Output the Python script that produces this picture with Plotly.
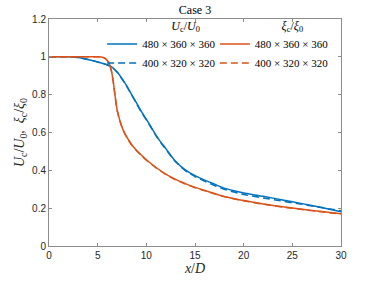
import plotly.graph_objects as go

# Blue: U_c/U_0
u_x = [0, 2, 3, 4, 5, 6, 6.5, 7, 7.5, 8, 8.5, 9, 9.5, 10, 10.5, 11, 11.5, 12, 12.5, 13, 14, 15, 16, 17, 18, 19, 20, 22, 24, 26, 28, 30]
u_fine = [1.0, 1.0, 0.996, 0.986, 0.973, 0.958, 0.945, 0.92, 0.885, 0.845, 0.80, 0.755, 0.71, 0.67, 0.628, 0.585, 0.548, 0.515, 0.48, 0.448, 0.402, 0.372, 0.348, 0.327, 0.306, 0.292, 0.28, 0.263, 0.243, 0.224, 0.203, 0.181]
u_coarse = [1.0, 1.0, 0.996, 0.986, 0.973, 0.957, 0.944, 0.918, 0.883, 0.843, 0.798, 0.752, 0.707, 0.667, 0.625, 0.583, 0.546, 0.512, 0.477, 0.445, 0.398, 0.367, 0.342, 0.32, 0.3, 0.285, 0.272, 0.254, 0.237, 0.22, 0.203, 0.186]

# Orange: xi_c/xi_0
xi_x = [0, 5, 5.5, 5.8, 6.0, 6.2, 6.4, 6.6, 6.8, 7.0, 7.3, 7.6, 8, 8.5, 9, 9.5, 10, 11, 12, 13, 14, 15, 16, 18, 20, 22, 24, 26, 28, 30]
xi_fine = [1.0, 1.0, 0.998, 0.99, 0.98, 0.963, 0.93, 0.87, 0.79, 0.72, 0.66, 0.615, 0.575, 0.535, 0.505, 0.48, 0.456, 0.415, 0.38, 0.352, 0.33, 0.31, 0.294, 0.262, 0.24, 0.222, 0.207, 0.194, 0.182, 0.17]
xi_coarse = [1.0, 1.0, 0.998, 0.99, 0.979, 0.962, 0.928, 0.868, 0.788, 0.718, 0.658, 0.613, 0.573, 0.533, 0.503, 0.478, 0.454, 0.413, 0.378, 0.35, 0.328, 0.308, 0.292, 0.261, 0.239, 0.221, 0.206, 0.193, 0.181, 0.169]

labels = ["480 × 360 × 360", "400 × 320 × 320"]
BLUE = "#0072BD"
ORANGE = "#D95319"
SERIF = "Liberation Serif, DejaVu Serif, serif"
SANS = "Liberation Sans, Arial, sans-serif"
DASH = "7px,4px"

fig = go.Figure()
fig.add_trace(go.Scatter(x=u_x, y=u_fine, mode="lines", name=labels[0],
                         line=dict(color=BLUE, width=1.5, shape="spline", smoothing=0.5), legend="legend"))
fig.add_trace(go.Scatter(x=u_x, y=u_coarse, mode="lines", name=labels[1],
                         line=dict(color=BLUE, width=1.5, dash=DASH, shape="spline", smoothing=0.5), legend="legend"))
fig.add_trace(go.Scatter(x=xi_x, y=xi_fine, mode="lines", name=labels[0],
                         line=dict(color=ORANGE, width=1.5, shape="spline", smoothing=0.5), legend="legend2"))
fig.add_trace(go.Scatter(x=xi_x, y=xi_coarse, mode="lines", name=labels[1],
                         line=dict(color=ORANGE, width=1.5, dash=DASH, shape="spline", smoothing=0.5), legend="legend2"))

axis_common = dict(showline=True, linecolor="#8c8c8c", linewidth=1, mirror="ticks",
                   ticks="inside", ticklen=3, tickcolor="#8c8c8c", showgrid=False, zeroline=False,
                   automargin=False,
                   tickfont=dict(family=SANS, size=10, color="#262626"))

pad_u = "&nbsp;" * 16
pad_xi = "&nbsp;" * 12

fig.update_layout(
    width=376, height=282,
    margin=dict(l=49, r=35, t=19, b=36),
    paper_bgcolor="white", plot_bgcolor="white",
    title=dict(text="Case 3", x=0.5, xref="paper", y=0.965, yanchor="middle",
               font=dict(family=SERIF, size=12, color="black")),
    xaxis=dict(range=[0, 30], tickvals=[0, 5, 10, 15, 20, 25, 30],
               title=dict(text="<i>x</i>/<i>D</i>", font=dict(family=SERIF, size=14, color="#262626"), standoff=0),
               **axis_common),
    yaxis=dict(range=[0, 1.2], tickvals=[0, 0.2, 0.4, 0.6, 0.8, 1.0, 1.2],
               ticktext=["0", "0.2", "0.4", "0.6", "0.8", "1", "1.2"],
               title=dict(text="<i>U</i><sub>c</sub>/<i>U</i><sub>0</sub>,  <i>ξ</i><sub>c</sub>/<i>ξ</i><sub>0</sub>",
                          font=dict(family=SERIF, size=14, color="#262626"), standoff=4),
               **axis_common),
    legend=dict(x=0.182, y=1.022, xanchor="left", yanchor="top", bgcolor="rgba(255,255,255,0)",
                title=dict(text=pad_u + "<i>U</i><sub>c</sub>/<i>U</i><sub>0</sub>", side="top center",
                           font=dict(family=SERIF, size=12, color="black")),
                font=dict(family=SERIF, size=11, color="black"), itemwidth=30, tracegroupgap=0),
    legend2=dict(x=0.568, y=1.022, xanchor="left", yanchor="top", bgcolor="rgba(255,255,255,0)",
                 title=dict(text=pad_xi + "<i>ξ</i><sub>c</sub>/<i>ξ</i><sub>0</sub>", side="top center",
                            font=dict(family=SERIF, size=12, color="black")),
                 font=dict(family=SERIF, size=11, color="black"), itemwidth=30, tracegroupgap=0),
)

fig.write_html("out.html", post_script="document.body.style.margin='0';",
               config={"displayModeBar": False})
